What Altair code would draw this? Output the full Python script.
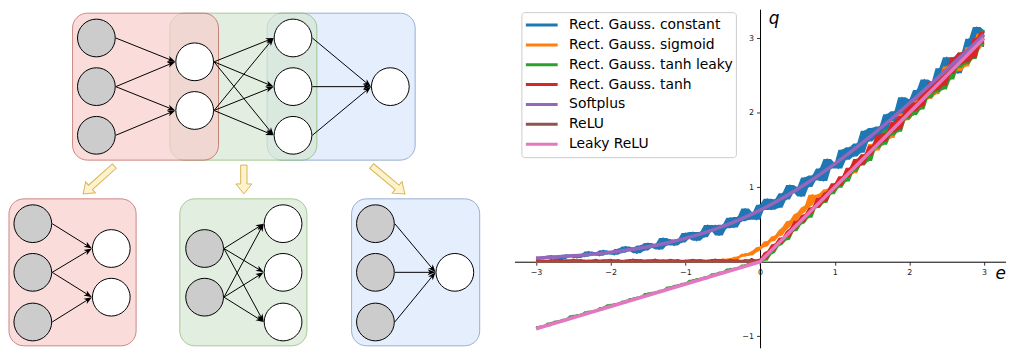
import math
import altair as alt
import pandas as pd

# ====================== right panel: activation curves ======================
NAMES = ["Rect. Gauss. constant", "Rect. Gauss. sigmoid", "Rect. Gauss. tanh leaky",
         "Rect. Gauss. tanh", "Softplus", "ReLU", "Leaky ReLU"]
COLORS = ["#1f77b4", "#ff7f0e", "#2ca02c", "#d62728", "#9467bd", "#8c564b", "#e377c2"]
WIDTHS = [1.3, 1.3, 1.3, 1.3, 3.5, 2.5, 3.5]
NOISY = [True, True, True, True, False, False, False]

E_GRID = [-3.0, -2.95, -2.9, -2.85, -2.8, -2.75, -2.7, -2.65, -2.6, -2.55,
          -2.5, -2.45, -2.4, -2.35, -2.3, -2.25, -2.2, -2.15, -2.1, -2.05,
          -2.0, -1.95, -1.9, -1.85, -1.8, -1.75, -1.7, -1.65, -1.6, -1.55,
          -1.5, -1.45, -1.4, -1.35, -1.3, -1.25, -1.2, -1.15, -1.1, -1.05,
          -1.0, -0.95, -0.9, -0.85, -0.8, -0.75, -0.7, -0.65, -0.6, -0.55,
          -0.5, -0.45, -0.4, -0.35, -0.3, -0.25, -0.2, -0.15, -0.1, -0.05,
          0.0, 0.05, 0.1, 0.15, 0.2, 0.25, 0.3, 0.35, 0.4, 0.45,
          0.5, 0.55, 0.6, 0.65, 0.7, 0.75, 0.8, 0.85, 0.9, 0.95,
          1.0, 1.05, 1.1, 1.15, 1.2, 1.25, 1.3, 1.35, 1.4, 1.45,
          1.5, 1.55, 1.6, 1.65, 1.7, 1.75, 1.8, 1.85, 1.9, 1.95,
          2.0, 2.05, 2.1, 2.15, 2.2, 2.25, 2.3, 2.35, 2.4, 2.45,
          2.5, 2.55, 2.6, 2.65, 2.7, 2.75, 2.8, 2.85, 2.9, 2.95,
          3.0]

Q_CONSTANT = [.055, .035, .068, .052, .082, .048, .068, .038, .094, .066,
              .097, .050, .095, .068, .137, .096, .123, .079, .154, .103,
              .127, .092, .172, .119, .205, .148, .187, .112, .218, .152,
              .250, .189, .236, .164, .320, .220, .297, .217, .298, .257,
              .385, .310, .398, .281, .400, .328, .493, .411, .490, .353,
              .495, .451, .591, .458, .600, .542, .713, .565, .658, .563,
              .765, .696, .844, .699, .836, .726, .919, .834, 1.030, .931,
              1.000, .875, 1.131, 1.004, 1.158, 1.096, 1.253, 1.084, 1.380, 1.250,
              1.327, 1.252, 1.503, 1.368, 1.537, 1.414, 1.587, 1.462, 1.758, 1.615,
              1.794, 1.665, 1.817, 1.667, 1.981, 1.894, 2.019, 1.881, 2.207, 2.017,
              2.178, 2.018, 2.304, 2.226, 2.447, 2.245, 2.415, 2.298, 2.597, 2.478,
              2.746, 2.533, 2.747, 2.530, 2.803, 2.677, 2.995, 2.868, 3.151, 2.883,
              3.109]

Q_SIGMOID = [.012, .006, .015, .008, .011, .004, .014, .009, .013, .005,
             .016, .007, .010, .006, .014, .008, .012, .004, .015, .009,
             .011, .006, .013, .007, .016, .005, .012, .008, .014, .006,
             .010, .004, .015, .009, .012, .007, .013, .005, .016, .008,
             .011, .006, .014, .007, .012, .005, .015, .009,
             .020, .002, .038, .015, .043, .020, .068, .068, .108, .085,
             .125, .150,
             .195, .203, .270, .278, .340, .353, .423, .465, .545, .553,
             .633, .660, .728, .755, .900, .835, .895, .918, .973, .970,
             1.040,
             1.019, 1.138, 1.130, 1.254, 1.187, 1.322, 1.306, 1.438, 1.434, 1.580,
             1.493, 1.608, 1.616, 1.762, 1.660, 1.837, 1.822, 1.986, 1.901, 2.020,
             1.968, 2.162, 2.139, 2.286, 2.184, 2.334, 2.247, 2.458, 2.403, 2.620,
             2.526, 2.687, 2.562, 2.726, 2.620, 2.879, 2.810, 2.859, 3.060, 2.916]

Q_TANH_LEAKY = [-.872, -.885, -.858, -.865, -.816, -.821, -.790, -.803, -.766, -.767,
                -.720, -.727, -.702, -.709, -.664, -.673, -.650, -.651, -.608, -.615,
                -.572, -.579, -.554, -.565, -.520, -.527, -.486, -.491, -.466, -.473,
                -.420, -.433, -.402, -.409, -.378, -.375, -.334, -.339, -.308, -.321,
                -.284, -.287, -.242, -.247, -.220, -.235, -.196, -.193, -.156, -.169,
                -.132, -.131, -.090, -.105, -.078, -.083, -.038, -.039, -.004, -.017,
                .016,
                .012, .092, .120, .205, .227, .286, .296, .405, .411,
                .496, .517, .606, .589, .728, .720, .785, .792, .925, .907,
                1.010, .993, 1.099, 1.077, 1.241, 1.209, 1.323, 1.293, 1.395, 1.352,
                1.536, 1.522, 1.614, 1.570, 1.768, 1.694, 1.808, 1.745, 1.928, 1.910,
                2.060, 1.969, 2.090, 2.045, 2.245, 2.197, 2.381, 2.273, 2.426, 2.312,
                2.504, 2.445, 2.667, 2.605, 2.808, 2.652, 2.820, 2.723, 2.962, 2.902,
                3.106]

Q_TANH = [.032, .011, .023, .007, .028, .019, .035, .010, .025, .013,
          .034, .017, .029, .005, .022, .014, .031, .008, .026, .020,
          .032, .011, .028, .007, .023, .016, .035, .013, .029, .010,
          .025, .017, .034, .005, .026, .014, .031, .019, .028, .008,
          .023, .011, .032, .016, .029, .007, .022, .013, .035, .017,
          .026, .010, .031, .014, .025, .005, .028, .019, .034, .011,
          .023,
          .042, .124, .152, .232, .245, .323, .329, .414, .452,
          .550, .531, .632, .642, .724, .730, .857, .806, .921, .954,
          1.052, 1.020, 1.146, 1.137, 1.261, 1.249, 1.378, 1.303, 1.443, 1.423,
          1.560, 1.554, 1.704, 1.610, 1.729, 1.734, 1.884, 1.776, 1.958, 1.941,
          2.110, 2.019, 2.141, 2.085, 2.285, 2.259, 2.410, 2.302, 2.455, 2.364,
          2.580, 2.521, 2.744, 2.645, 2.810, 2.679, 2.846, 2.736, 3.002, 2.929,
          3.090]

SP_E = [-3.0, -2.75, -2.5, -2.25, -2.0, -1.75, -1.5, -1.25, -1.0, -0.75, -0.5, -0.25,
        0.0, 0.25, 0.5, 0.75, 1.0, 1.25, 1.5, 1.75, 2.0, 2.25, 2.5, 2.75, 3.0]
SP_Q = [0.049, 0.062, 0.079, 0.100, 0.127, 0.160, 0.201, 0.252, 0.313, 0.386, 0.474, 0.576,
        0.693, 0.826, 0.974, 1.136, 1.313, 1.502, 1.701, 1.910, 2.127, 2.351, 2.579, 2.812, 3.049]

RELU_E = [-3.0, 0.0, 3.0]
RELU_Q = [0.0, 0.0, 3.0]
LEAKY_E = [-3.0, 0.0, 3.0]
LEAKY_Q = [-0.9, 0.0, 3.0]

X_TICKS = [-3, -2, -1, 0, 1, 2, 3]
Y_TICKS = [-1, 0, 1, 2, 3]

SERIES = [
    (E_GRID, Q_CONSTANT), (E_GRID, Q_SIGMOID), (E_GRID, Q_TANH_LEAKY), (E_GRID, Q_TANH),
    (SP_E, SP_Q), (RELU_E, RELU_Q), (LEAKY_E, LEAKY_Q),
]

# ====================== left panel: network diagram ======================
NODE_X = [96, 96, 96, 195, 195, 294, 294, 294, 392,
          32, 32, 32, 111, 111,
          205, 205, 284, 284, 284,
          377, 377, 377, 457]
NODE_Y = [37, 86, 135, 61, 110, 37, 86, 135, 86,
          224, 273, 323, 249, 298,
          249, 298, 224, 273, 323,
          224, 273, 323, 273]
NODE_GRAY = [0, 1, 2, 9, 10, 11, 14, 15, 19, 20, 21]
EDGES = [(0, 3), (1, 3), (1, 4), (2, 4),
         (3, 5), (3, 6), (3, 7), (4, 5), (4, 6), (4, 7),
         (5, 8), (6, 8), (7, 8),
         (9, 12), (10, 12), (10, 13), (11, 13),
         (14, 16), (14, 17), (14, 18), (15, 16), (15, 17), (15, 18),
         (19, 22), (20, 22), (21, 22)]
R_NODE = 19.5

BOX_X1 = [8, 180, 353, 268, 170, 72]
BOX_X2 = [136, 308, 482, 417, 318, 219]
BOX_Y1 = [199, 199, 199, 12, 12, 12]
BOX_Y2 = [347, 347, 347, 160, 160, 160]
BOX_FILL = ["#f8cecc", "#d5e8d4", "#dae8fc", "#dae8fc", "#d5e8d4", "#f8cecc"]
BOX_STROKE = ["#b85450", "#82b366", "#6c8ebf", "#6c8ebf", "#82b366", "#b85450"]

ARROW_TAIL = [(114, 166), (244.5, 165), (373.3, 166)]
ARROW_TIP = [(82.7, 194), (244.5, 194), (406.7, 194)]

# ---------------- build diagram tables ----------------
node_df = pd.DataFrame({
    "x": NODE_X, "y": NODE_Y,
    "fill": ["#cccccc" if i in NODE_GRAY else "#ffffff" for i in range(len(NODE_X))],
})
seg_rows, head_rows = [], []
HEAD = 8.0
for a, b in EDGES:
    x1, y1 = NODE_X[a] + R_NODE, NODE_Y[a]
    x2, y2 = NODE_X[b] - R_NODE, NODE_Y[b]
    d = math.hypot(x2 - x1, y2 - y1)
    ux, uy = (x2 - x1) / d, (y2 - y1) / d
    seg_rows.append({"x1": x1, "y1": y1, "x2": x2 - ux * 3, "y2": y2 - uy * 3})
    head_rows.append({"x": x2 - ux * HEAD / 2, "y": y2 - uy * HEAD / 2,
                      "ang": math.degrees(math.atan2(y2 - y1, x2 - x1)) % 360})
seg_df = pd.DataFrame(seg_rows)
head_df = pd.DataFrame(head_rows)
box_df = pd.DataFrame({"x1": BOX_X1, "x2": BOX_X2, "y1": BOX_Y1, "y2": BOX_Y2,
                       "fill": BOX_FILL, "stroke": BOX_STROKE})
arr_rows = []
for (tx, ty), (px, py) in zip(ARROW_TAIL, ARROW_TIP):
    dx, dy = px - tx, py - ty
    arr_rows.append({"x": (tx + px) / 2, "y": (ty + py) / 2,
                     "size": dx * dx + dy * dy,
                     "ang": math.degrees(math.atan2(-dx, dy)) % 360,
                     "diag": abs(dx) > 1})
arr_df = pd.DataFrame(arr_rows)

DW, DH = 500, 341
sx = alt.Scale(domain=[8, 8 + DW], nice=False, zero=False)
sy = alt.Scale(domain=[8, 8 + DH], nice=False, zero=False, reverse=True)

HEAD_PATH = "M1,0L-1,-0.75L-0.45,0L-1,0.75Z"
MID_ARROW = "M-0.22,-1L0.22,-1L0.22,0.31L0.55,0.31L0,1L-0.55,0.31L-0.22,0.31Z"
DIAG_ARROW = "M-0.14,-1L0.14,-1L0.14,0.53L0.35,0.53L0,1L-0.35,0.53L-0.14,0.53Z"

boxes = alt.Chart(box_df).mark_rect(cornerRadius=15, opacity=0.7, strokeWidth=1).encode(
    x=alt.X("x1:Q", scale=sx, axis=None), x2="x2:Q",
    y=alt.Y("y1:Q", scale=sy, axis=None), y2="y2:Q",
    fill=alt.Fill("fill:N", scale=None), stroke=alt.Stroke("stroke:N", scale=None))
edges = alt.Chart(seg_df).mark_rule(color="black", strokeWidth=1).encode(
    x=alt.X("x1:Q", scale=sx, axis=None), x2="x2:Q",
    y=alt.Y("y1:Q", scale=sy, axis=None), y2="y2:Q")
heads = alt.Chart(head_df).mark_point(shape=HEAD_PATH, filled=True, color="black",
                                      size=64, opacity=1).encode(
    x=alt.X("x:Q", scale=sx, axis=None), y=alt.Y("y:Q", scale=sy, axis=None),
    angle=alt.Angle("ang:Q", scale=None))
nodes = alt.Chart(node_df).mark_point(shape="circle", size=1444, filled=True,
                                      stroke="black", strokeWidth=1, opacity=1).encode(
    x=alt.X("x:Q", scale=sx, axis=None), y=alt.Y("y:Q", scale=sy, axis=None),
    fill=alt.Fill("fill:N", scale=None))
arrows_diag = alt.Chart(arr_df[arr_df["diag"]]).mark_point(
    shape=DIAG_ARROW, filled=True, fill="#fff2cc", stroke="#d6b656", strokeWidth=1,
    opacity=1).encode(
    x=alt.X("x:Q", scale=sx, axis=None), y=alt.Y("y:Q", scale=sy, axis=None),
    size=alt.Size("size:Q", scale=None), angle=alt.Angle("ang:Q", scale=None))
arrows_mid = alt.Chart(arr_df[~arr_df["diag"]]).mark_point(
    shape=MID_ARROW, filled=True, fill="#fff2cc", stroke="#d6b656", strokeWidth=1,
    opacity=1).encode(
    x=alt.X("x:Q", scale=sx, axis=None), y=alt.Y("y:Q", scale=sy, axis=None),
    size=alt.Size("size:Q", scale=None), angle=alt.Angle("ang:Q", scale=None))

diagram = alt.layer(boxes, edges, heads, nodes, arrows_diag, arrows_mid).properties(
    width=DW, height=DH)

# ---------------- plot panel ----------------
PW, PH = 495, 341
X0PX, Y0PX, UX, UY = 247.3, 254.3, 75.2, 75.0
ex = alt.Scale(domain=[-X0PX / UX, (PW - X0PX) / UX], nice=False, zero=False)
qy = alt.Scale(domain=[(Y0PX - PH) / UY, Y0PX / UY], nice=False, zero=False)

xaxis = alt.Axis(values=X_TICKS, offset=-(PH - Y0PX), domainColor="black", domainWidth=1,
                 tickColor="black", tickWidth=0.8, tickSize=3.5, labelFont="DejaVu Sans",
                 labelFontSize=8, labelColor="#222222", labelPadding=3, grid=False,
                 title=None, format="d", labelFlush=False)
yaxis = alt.Axis(values=Y_TICKS, offset=-X0PX, domainColor="black", domainWidth=1,
                 tickColor="black", tickWidth=0.8, tickSize=3.5, labelFont="DejaVu Sans",
                 labelFontSize=8, labelColor="#222222", labelPadding=3, grid=False,
                 title=None, format="d")
# legend sits at the top level of the concat: coordinates from the chart's origin
legend = alt.Legend(title=None, orient="none", legendX=516, legendY=3, symbolType="stroke",
                    symbolSize=1024, symbolStrokeWidth=3, labelFont="DejaVu Sans",
                    labelFontSize=14, labelColor="black", labelOffset=10, labelLimit=400,
                    padding=3, rowPadding=0, clipHeight=19.9, strokeColor="#cccccc",
                    fillColor="rgba(255,255,255,0.8)", cornerRadius=3, symbolOpacity=1)
color = alt.Color("series:N", scale=alt.Scale(domain=NAMES, range=COLORS), legend=legend)

layers = []
for name, col, (xs, ys), w, noisy in zip(NAMES, COLORS, SERIES, WIDTHS, NOISY):
    n = min(len(xs), len(ys))
    df = pd.DataFrame({"e": list(xs)[:n], "q": list(ys)[:n]})
    df["series"] = name
    if noisy:
        # filled band between neighbouring samples, gives the dense noisy look
        layers.append(alt.Chart(df).transform_window(
            lo="min(q)", hi="max(q)", frame=[-1, 1], sort=[alt.SortField("e")]
        ).mark_area(color=col, opacity=1, interpolate="linear").encode(
            x=alt.X("e:Q", scale=ex, axis=xaxis),
            y=alt.Y("lo:Q", scale=qy, axis=yaxis),
            y2="hi:Q"))
    interp = "monotone" if name == "Softplus" else "linear"
    layers.append(alt.Chart(df).mark_line(strokeWidth=w, interpolate=interp,
                                          strokeJoin="round").encode(
        x=alt.X("e:Q", scale=ex, axis=xaxis),
        y=alt.Y("q:Q", scale=qy, axis=yaxis),
        color=color))

q_lab = alt.Chart(pd.DataFrame({"t": ["q"]})).mark_text(
    font="DejaVu Sans", fontStyle="italic", fontSize=17, align="left",
    baseline="alphabetic", color="black").encode(
    x=alt.value(256), y=alt.value(15), text="t:N")
e_lab = alt.Chart(pd.DataFrame({"t": ["e"]})).mark_text(
    font="DejaVu Sans", fontStyle="italic", fontSize=17, align="right",
    baseline="alphabetic", color="black").encode(
    x=alt.value(PW), y=alt.value(272), text="t:N")

plot = alt.layer(*layers, q_lab, e_lab).properties(width=PW, height=PH)

chart = alt.hconcat(diagram, plot, spacing=9).resolve_scale(
    x="independent", y="independent").configure_view(stroke=None).properties(padding=0)

chart.save("out.html", embed_options={"renderer": "svg", "actions": False})
